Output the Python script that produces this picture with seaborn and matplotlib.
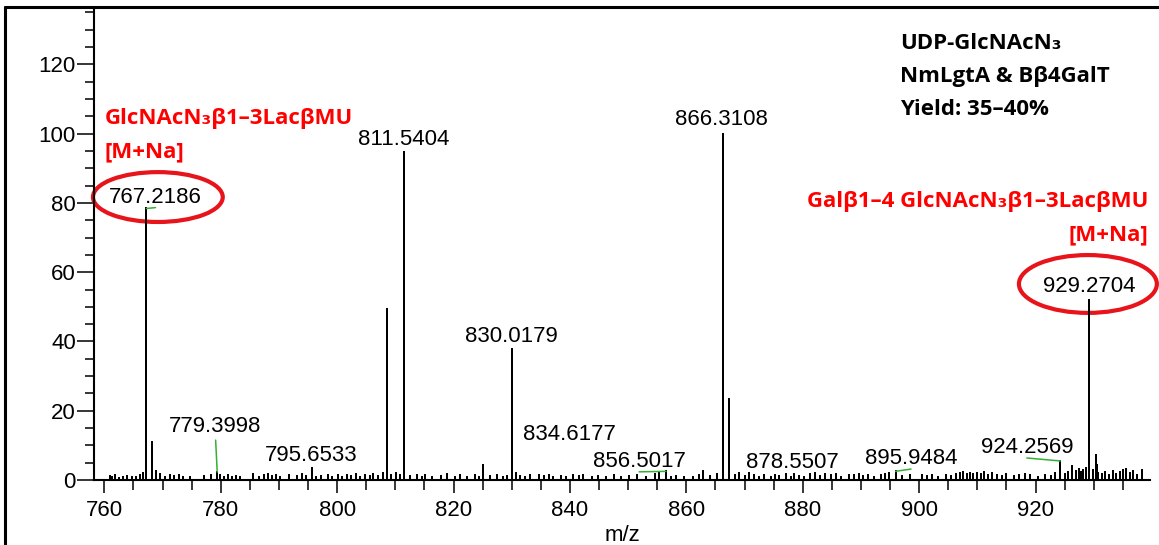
import matplotlib
matplotlib.use("Agg")
import matplotlib.pyplot as plt
from matplotlib.patches import Ellipse
from matplotlib.lines import Line2D
import seaborn as sns
import pandas as pd

# ---------------- data ----------------
peak_mz = [767.2186, 768.20, 768.90, 779.3998, 795.6533, 808.57, 811.5404, 825.10,
           830.0179, 834.6177, 856.5017, 862.80, 866.3108, 867.40, 878.5507, 895.9484,
           924.2569, 926.20, 928.10, 929.2704, 930.35, 930.60]
peak_int = [78.4, 11.0, 2.6, 2.3, 3.5, 49.5, 94.6, 4.3,
            37.9, 1.5, 2.5, 2.7, 100.0, 23.4, 1.8, 2.5,
            5.5, 4.0, 2.9, 52.0, 7.2, 4.3]

noise_peaks = [
    (760.9, 1.1), (761.3, 0.8), (761.8, 1.3), (762.5, 0.7), (763.2, 0.9), (763.9, 1.2),
    (764.8, 0.8), (765.5, 1.0), (766.1, 1.4), (766.6, 2.0), (769.6, 1.6), (770.4, 0.9),
    (771.3, 1.3), (772.0, 1.1), (772.8, 1.4), (773.6, 0.8), (774.7, 1.0), (777.2, 1.2),
    (778.3, 1.5), (779.9, 1.4), (780.6, 1.0), (781.2, 1.3), (781.9, 0.8), (782.6, 1.1),
    (783.4, 0.9), (785.6, 1.6), (786.6, 1.0), (787.4, 1.3), (788.2, 1.7), (788.8, 1.2),
    (789.5, 1.5), (790.2, 0.9), (791.8, 1.3), (793.1, 1.1), (793.9, 1.6), (794.6, 1.2),
    (796.4, 1.0), (797.3, 1.2), (798.5, 1.4), (799.2, 1.0), (800.1, 1.3), (800.9, 0.8),
    (801.7, 1.5), (802.4, 1.1), (803.3, 1.6), (804.0, 0.9), (804.8, 1.4), (805.6, 1.1),
    (806.2, 1.7), (807.1, 1.2), (807.8, 2.0), (809.3, 1.5), (810.1, 1.9), (810.8, 1.3),
    (812.6, 1.2), (813.7, 1.5), (814.5, 0.9), (815.1, 1.3), (816.3, 1.0), (817.8, 1.2),
    (818.9, 1.6), (820.2, 1.0), (821.1, 1.4), (822.4, 0.9), (823.7, 1.3), (824.3, 1.0),
    (826.2, 1.1), (827.4, 1.3), (828.5, 0.9), (829.2, 1.2), (830.8, 2.0), (831.5, 1.2),
    (832.3, 1.0), (833.2, 1.4), (835.6, 1.1), (836.4, 1.3), (837.1, 0.9), (838.4, 1.2),
    (839.3, 1.0), (840.6, 1.4), (841.5, 1.1), (842.3, 1.3), (843.8, 0.9), (844.9, 1.2),
    (846.2, 1.0), (847.5, 1.3), (848.8, 0.9), (850.1, 1.2), (851.6, 1.4), (853.0, 1.0),
    (854.6, 1.8), (855.3, 2.1), (857.4, 1.0), (858.2, 1.2), (859.6, 0.9), (861.2, 1.0),
    (862.1, 1.3), (864.1, 1.1), (865.3, 1.6), (868.4, 1.5), (869.1, 2.0), (870.0, 1.2),
    (870.8, 2.1), (871.7, 1.4), (872.5, 1.0), (873.4, 1.3), (874.6, 0.9), (875.3, 1.5),
    (876.0, 1.1), (877.2, 1.6), (878.0, 1.0), (879.3, 1.2), (880.2, 1.0), (881.3, 1.7),
    (882.1, 2.0), (883.0, 1.2), (883.9, 1.6), (884.8, 1.3), (885.7, 1.8), (886.6, 1.0),
    (887.9, 1.5), (888.8, 1.3), (889.6, 1.7), (890.4, 1.1), (891.3, 1.4), (892.2, 1.0),
    (893.4, 1.3), (894.2, 1.6), (894.9, 1.9), (897.1, 1.1), (898.4, 1.3), (900.5, 1.4),
    (901.4, 1.2), (902.2, 1.5), (903.3, 1.0), (904.6, 1.3), (905.4, 1.1), (906.3, 1.6),
    (907.1, 1.9), (907.6, 2.3), (908.2, 1.8), (908.7, 2.1), (909.3, 1.6), (910.0, 2.0),
    (910.6, 1.7), (911.2, 2.2), (911.9, 1.5), (912.6, 1.9), (913.3, 1.4), (914.2, 1.2),
    (915.0, 1.6), (916.3, 1.1), (917.1, 1.4), (918.2, 1.8), (919.1, 1.3), (920.4, 1.0),
    (921.7, 1.3), (922.6, 1.1), (923.4, 1.9), (925.0, 1.6), (925.5, 2.4), (926.9, 2.6),
    (927.4, 3.1), (927.8, 2.2), (928.6, 3.4), (929.9, 2.8), (930.8, 2.0), (931.4, 1.6),
    (932.0, 2.2), (932.6, 1.5), (933.3, 2.6), (933.9, 1.8), (934.5, 2.3), (935.1, 2.9),
    (935.6, 3.3), (936.2, 1.9), (936.7, 2.6), (937.4, 1.4), (938.3, 2.8),
]

labeled_mz = [767.2186, 779.3998, 795.6533, 811.5404, 830.0179, 834.6177,
              856.5017, 866.3108, 878.5507, 895.9484, 924.2569, 929.2704]
leader_mz = [767.2186, 779.3998, 856.5017, 895.9484, 924.2569]
highlight_mz = [767.2186, 929.2704]

x_ticks = [760, 780, 800, 820, 840, 860, 880, 900, 920]
y_ticks = [0, 20, 40, 60, 80, 100, 120]

info_lines = ["UDP-GlcNAcN\u2083", "NmLgtA & B\u03b24GalT", "Yield: 35\u201340%"]
left_product = ["GlcNAcN\u2083\u03b21\u20133Lac\u03b2MU", "[M+Na]"]
right_product = ["Gal\u03b21\u20134 GlcNAcN\u2083\u03b21\u20133Lac\u03b2MU", "[M+Na]"]

# ---------------- layout (label placement, not data) ----------------
label_xy = {767.2186: (768.8, 80.1), 779.3998: (779.1, 13.9), 795.6533: (795.5, 5.5),
            811.5404: (811.4, 96.6), 830.0179: (829.9, 39.9), 834.6177: (840.0, 11.6),
            856.5017: (851.9, 3.8), 866.3108: (866.1, 102.4), 878.5507: (878.3, 3.5),
            895.9484: (898.6, 4.6), 924.2569: (918.5, 7.8), 929.2704: (929.2, 54.4)}
ellipse_geom = {767.2186: (769.2, 81.7, 22.3, 14.4), 929.2704: (929.0, 56.6, 23.7, 16.7)}

# ---------------- build stick spectrum ----------------
all_peaks = sorted(list(zip(peak_mz, peak_int)) + noise_peaks)
rows = []
for m, h in all_peaks:
    rows.append((m, 0.0))
    rows.append((m, h))
    rows.append((m, 0.0))
stick = pd.DataFrame(rows, columns=["mz", "intensity"])

sns.set_style("ticks")
plt.rcParams["font.family"] = ["Liberation Sans", "DejaVu Sans"]
plt.rcParams["text.color"] = "black"
plt.rcParams["axes.labelcolor"] = "black"

W, H = 1159, 545
fig = plt.figure(figsize=(W / 100, H / 100), dpi=100)
ax = fig.add_axes([94.3 / W, (H - 480) / H, (1150 - 94.3) / W, (480 - 8.3) / H])

sns.lineplot(data=stick, x="mz", y="intensity", sort=False, estimator=None,
             color="black", linewidth=1.2, ax=ax)

ax.set_xlim(758.28, 939.67)
ax.set_ylim(0, 136.2)
sns.despine(ax=ax, top=True, right=True)
for s in ("left", "bottom"):
    ax.spines[s].set_linewidth(1.5)
    ax.spines[s].set_color("black")

ax.set_xticks(x_ticks)
ax.set_xticklabels([str(t) for t in x_ticks])
ax.set_yticks(y_ticks)
ax.set_yticklabels([str(t) for t in y_ticks])
ax.set_xticks([v for v in range(765, 940, 5) if v not in x_ticks], minor=True)
ax.set_yticks([v for v in range(5, 136, 5) if v not in y_ticks], minor=True)
ax.tick_params(axis="x", which="major", bottom=True, direction="out", length=9.5, width=1.1,
               labelsize=16, pad=5, color="black", labelcolor="black")
ax.tick_params(axis="x", which="minor", bottom=True, direction="out", length=7, width=1.1,
               color="black")
ax.tick_params(axis="y", which="major", left=True, direction="out", length=12.2, width=1.1,
               labelsize=16, pad=1, color="black", labelcolor="black")
ax.tick_params(axis="y", which="minor", left=True, direction="out", length=6.5, width=1.1,
               color="black")
ax.set_ylabel("")
ax.set_xlabel("m/z", fontsize=16, color="black")
ax.xaxis.set_label_coords(0.5, -0.095)

# peak labels
height_of = dict(zip(peak_mz, peak_int))
green = "#33b033"
for m in labeled_mz:
    tx, ty = label_xy[m]
    if m in leader_mz:
        ax.annotate(f"{m:.4f}", xy=(m, height_of[m]), xytext=(tx, ty),
                    textcoords="data", ha="center", va="baseline", fontsize=16,
                    color="black",
                    arrowprops=dict(arrowstyle="-", color=green, lw=1.1,
                                    relpos=(0.5, 0.0), shrinkA=0, shrinkB=0))
    else:
        ax.text(tx, ty, f"{m:.4f}", ha="center", va="baseline", fontsize=16,
                color="black")

for m in highlight_mz:
    cx, cy, ew, eh = ellipse_geom[m]
    ax.add_patch(Ellipse((cx, cy), ew, eh, fill=False, edgecolor="#e8141b",
                         linewidth=3, clip_on=False))

# product annotations
bold_fam = ["Open Sans", "DejaVu Sans"]
red = "#ff0000"
fs_b = 16
ax.text(0.0101, 0.7547, left_product[0], transform=ax.transAxes, color=red,
        fontsize=fs_b, fontweight="bold", family=bold_fam, ha="left", va="baseline")
ax.text(0.0101, 0.6848, left_product[1], transform=ax.transAxes, color=red,
        fontsize=fs_b, fontweight="bold", family=bold_fam, ha="left", va="baseline")
ax.text(0.9981, 0.5788, right_product[0], transform=ax.transAxes, color=red,
        fontsize=fs_b, fontweight="bold", family=bold_fam, ha="right", va="baseline")
ax.text(0.9981, 0.5088, right_product[1], transform=ax.transAxes, color=red,
        fontsize=fs_b, fontweight="bold", family=bold_fam, ha="right", va="baseline")
for line, yy in zip(info_lines, [0.9137, 0.8427, 0.7738]):
    ax.text(0.7632, yy, line, transform=ax.transAxes, color="black",
            fontsize=fs_b, fontweight="bold", family=bold_fam, ha="left", va="baseline")

# figure frame (top and left edges visible in the reference)
fig.add_artist(Line2D([5.3 / W, 1.0], [(H - 7.2) / H, (H - 7.2) / H],
                      transform=fig.transFigure, color="black", linewidth=2.2))
fig.add_artist(Line2D([5.3 / W, 5.3 / W], [0.0, (H - 7.2) / H],
                      transform=fig.transFigure, color="black", linewidth=2.2))

fig.savefig("out.png", dpi=100)
